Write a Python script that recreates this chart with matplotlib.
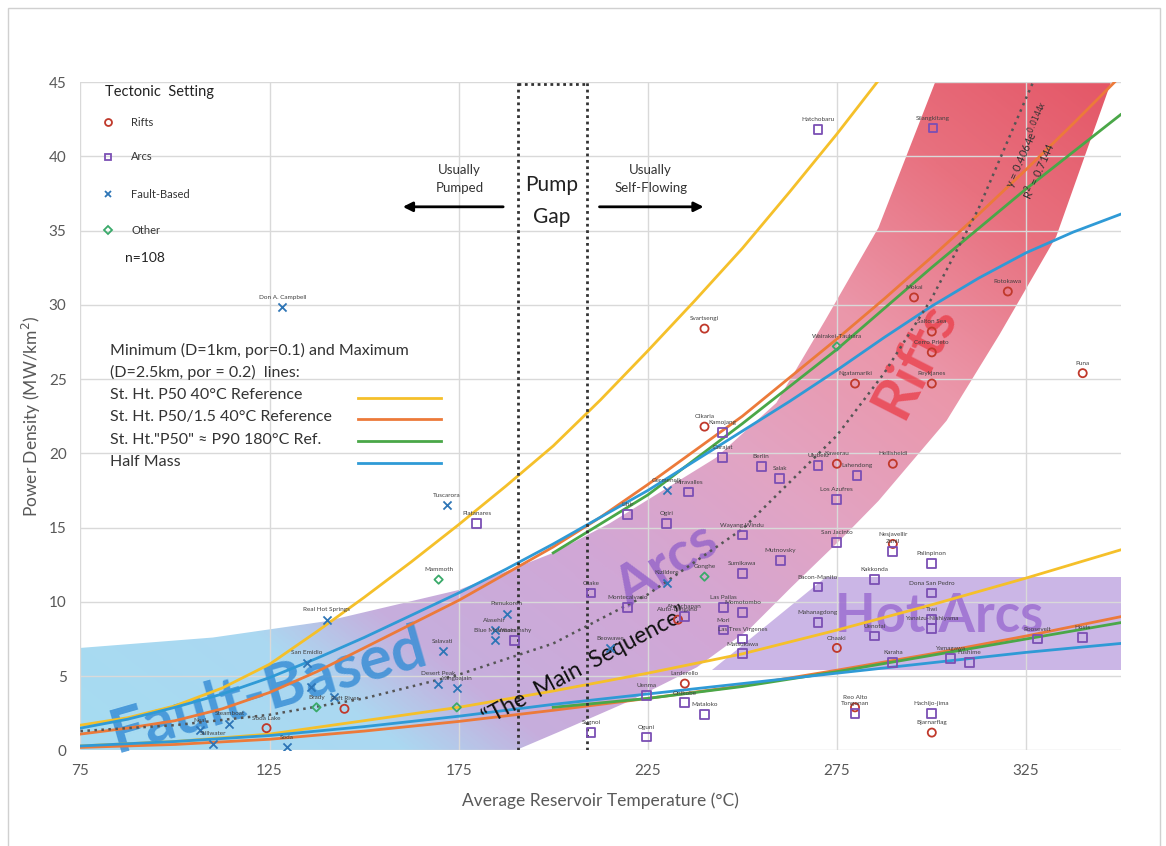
import matplotlib.pyplot as plt
import numpy as np
from matplotlib.patches import Polygon, Rectangle
from matplotlib.colors import LinearSegmentedColormap

plt.rcParams['font.family'] = ['Lato', 'DejaVu Sans']

# ---------------- data ----------------
# model curves (temperature in C, power density in MW/km2)
fine_t = [75, 87.5, 100, 112.5, 125, 137.5, 150, 162.5, 175, 187.5, 200, 212.5, 225,
          237.5, 250, 262.5, 275, 287.5, 300, 312.5, 325, 337.5, 350]
p50_max = [1.7, 2.2, 3.0, 4.2, 5.8, 8.0, 10.3, 12.7, 15.2, 17.8, 20.5, 23.6, 26.9,
           30.3, 33.8, 37.6, 41.5, 45.6, 50.0, 54.0, 58.0, 62.0, 67.0]
p50_15_max = [1.1, 1.5, 2.0, 2.8, 3.9, 5.3, 6.9, 8.5, 10.1, 11.9, 13.7, 15.7, 17.9,
              20.2, 22.5, 25.1, 27.7, 30.4, 33.2, 36.1, 39.1, 42.2, 45.4]
half_max = [1.5, 2.1, 2.9, 3.8, 4.9, 6.2, 7.6, 9.1, 10.6, 12.2, 13.9, 15.7, 17.5,
            19.5, 21.5, 23.5, 25.6, 27.8, 29.9, 31.8, 33.5, 34.9, 36.1]
curve_t = [75, 100, 125, 150, 175, 200, 225, 250, 275, 300, 325, 350]
p50_min = [0.3, 0.6, 1.1, 2.0, 2.9, 4.0, 5.2, 6.5, 8.1, 9.8, 11.6, 13.5]
p50_15_min = [0.2, 0.4, 0.75, 1.3, 1.95, 2.7, 3.5, 4.35, 5.4, 6.5, 7.7, 9.0]
half_min = [0.3, 0.6, 1.0, 1.6, 2.3, 3.1, 3.8, 4.5, 5.2, 5.9, 6.6, 7.2]
p90_t = [200, 225, 250, 275, 300, 325, 350]
p90_max = [13.3, 17.2, 22.0, 27.0, 32.5, 37.8, 42.8]
p90_min = [2.9, 3.5, 4.3, 5.3, 6.4, 7.5, 8.6]
fit_t = [75, 100, 125, 150, 175, 200, 225, 250, 275, 287.5, 300, 312.5, 325, 330]
fit_p = [1.3, 1.7, 2.4, 3.5, 5.1, 7.2, 10.5, 14.9, 21.2, 25.4, 30.4, 36.5, 43.9, 46.8]

# shaded band (Fault-Based -> Arcs -> Rifts), outline
band_t = [75, 110, 140, 175, 200, 215, 243, 259, 272, 286, 301,
          347.5, 333, 318, 304, 286, 276, 263, 252, 238, 220, 202, 190, 75]
band_p = [6.9, 7.6, 8.7, 10.8, 13.3, 15.3, 19.7, 23.4, 29.0, 35.2, 45.0,
          45.0, 34.6, 28.0, 22.2, 16.8, 14.2, 11.0, 8.2, 5.6, 3.3, 1.3, 0, 0]
hot_t = [242, 350, 350, 272]
hot_p = [5.4, 5.4, 11.7, 11.7]

# sites
rift_names = ['Svartsengi', 'Mokai', 'Rotokawa', 'Salton Sea', 'Cerro Prieto', 'Reykjanes',
              'Ngatamariki', 'Puna', 'Olkaria', 'Hellisheidi', 'Kawerau', 'Ohaaki',
              'Bjarnarflag', 'Nesjavellir', 'Aluto-Langano', 'Larderello', 'Reo Alto',
              'Raft River', 'Soda Lake']
rift_t = [240, 295.4, 320.2, 300.1, 300.1, 300.1, 279.8, 340, 240, 289.8, 275, 275,
          300.1, 289.8, 233, 234.8, 279.8, 144.8, 124.2]
rift_p = [28.4, 30.5, 30.9, 28.2, 26.8, 24.7, 24.7, 25.4, 21.8, 19.3, 19.3, 6.9,
          1.2, 13.9, 8.8, 4.5, 2.9, 2.8, 1.5]

arc_names = ['Hatchobaru', 'Silangkitang', 'Platanares', 'Kamojang', 'Darajat', 'Berlin',
             'Salak', 'Ulubelu', 'Lahendong', 'Los Azufres', 'San Jacinto', 'Lihir', 'Ogiri',
             'Miravalles', 'Wayang Windu', 'Sumikawa', 'Mutnovsky', 'Las Pailas',
             'Momotombo', 'Mori', 'Las Tres Virgenes', 'Matsukawa', 'Ahuachapan',
             'Montecalvario', 'Mahanagdong', 'Kakkonda', 'Zunil', 'Palinpinon',
             'Dona San Pedro', 'Tiwi', 'Yanaizu-Nishiyama', 'Yamagawa', 'Fushime',
             'Roosevelt', 'Hosts', 'Karaha', 'Uenotai', 'Bacon-Manito', 'Hachijo-jima',
             'Sugnoi', 'Oguni', 'Uenma', 'Onikobe', 'Mataloko', 'Otake', 'Wooramshy',
             'Tongonan']
arc_t = [270, 300.4, 179.8, 244.8, 244.8, 255, 259.9, 270, 280.3, 275, 275, 219.7, 230,
         235.8, 250, 250, 260, 245, 250, 245, 250, 250, 234.8, 219.7, 270, 285, 289.8,
         300.1, 300, 300, 300, 305, 310, 328, 340, 289.8, 285, 270, 300, 210, 224.7,
         224.7, 234.8, 240, 210, 189.8, 279.8]
arc_p = [41.8, 41.9, 15.3, 21.4, 19.7, 19.1, 18.3, 19.2, 18.5, 16.9, 14.0, 15.9, 15.3,
         17.4, 14.5, 11.9, 12.8, 9.6, 9.3, 8.1, 7.5, 6.5, 9.0, 9.6, 8.6, 11.5, 13.4,
         12.6, 10.6, 8.8, 8.2, 6.2, 5.9, 7.5, 7.6, 5.9, 7.7, 11.0, 2.5, 1.2, 0.9,
         3.7, 3.2, 2.4, 10.6, 7.4, 2.5]

fault_names = ['Don A. Campbell', 'Tuscarora', 'Real Hot Springs', 'San Emidio', 'Pamukoren',
               'Alasehir', 'Blue Mountain', 'Salavati', 'Desert Peak', 'Yangbajain',
               'Beowawe', 'Germencik', 'Kizildere', 'Neal', 'Stillwater', 'Steamboat',
               'Soda', '', '']
fault_t = [128.4, 171.8, 140.1, 134.8, 187.7, 184.5, 184.5, 170.8, 169.5, 174.5, 215,
           230, 230, 106.5, 110, 114.4, 129.5, 136, 142]
fault_p = [29.85, 16.5, 8.8, 5.9, 9.2, 8.1, 7.4, 6.7, 4.5, 4.2, 6.9, 17.5, 11.3, 1.35,
           0.45, 1.8, 0.2, 4.3, 3.6]

other_names = ['Mammoth', 'Wairakei-Tauhara', 'Brady', '', 'Gonghe']
other_t = [169.7, 275, 137.4, 174.5, 240]
other_p = [11.5, 27.2, 2.9, 2.9, 11.7]

# ---------------- figure ----------------
fig = plt.figure(figsize=(11.66, 8.46), dpi=100)
fig.add_artist(Rectangle((0.007, -0.01), 0.988, 1.0, transform=fig.transFigure,
                         fill=False, edgecolor='#d0d0d0', lw=1))
ax = fig.add_axes([0.069, 0.113, 0.892, 0.790])
ax.set_xlim(75, 350)
ax.set_ylim(0, 45)

# gradient band
tt, pp = np.meshgrid(np.linspace(75, 350, 600), np.linspace(0, 45, 500))
s = 0.55 * (tt - 75) / 275 + 0.45 * pp / 45
cmap = LinearSegmentedColormap.from_list('band', [
    (0.0, '#a6dcf2'), (0.17, '#abd8f1'), (0.25, '#c6aedd'), (0.40, '#d1a7d6'),
    (0.55, '#e2a4c3'), (0.70, '#eb97aa'), (0.85, '#e8717f'), (1.0, '#e45666')])
img = ax.imshow(s, extent=[75, 350, 0, 45], origin='lower', aspect='auto',
                cmap=cmap, vmin=0, vmax=1, zorder=0.5, interpolation='bilinear')
band = Polygon(np.column_stack([band_t, band_p]), closed=True, fc='none', ec='none')
ax.add_patch(band)
img.set_clip_path(band)
ax.fill(hot_t, hot_p, color='#cbb6e6', zorder=0.6, lw=0)

# grid
for x in [75, 125, 175, 225, 275, 325]:
    ax.axvline(x, color='#d9d9d9', lw=1, zorder=1)
for y in range(0, 50, 5):
    ax.axhline(y, color='#d9d9d9', lw=1, zorder=1)
for sp in ax.spines.values():
    sp.set_visible(False)
ax.set_xticks([75, 125, 175, 225, 275, 325])
ax.set_yticks(range(0, 50, 5))
ax.tick_params(length=0, colors='#595959', labelsize=11, pad=10)
ax.set_xlabel('Average Reservoir Temperature (\u00b0C)', fontsize=12.5, color='#595959', labelpad=10)
ax.set_ylabel('Power Density (MW/km$^2$)', fontsize=12.5, color='#595959', labelpad=4)

# watermark words
ax.text(124.5, 4.0, 'Fault-Based', fontsize=44, fontweight='bold', color='#3a8fd6', alpha=0.85,
        rotation=16, ha='center', va='center', zorder=1.5)
ax.text(230, 12.5, 'Arcs', fontsize=40, fontweight='bold', color='#9463c9', alpha=0.8,
        rotation=32, ha='center', va='center', zorder=1.5)
ax.text(295.6, 26.3, 'Rifts', fontsize=42, fontweight='bold', color='#ea3b46', alpha=0.75,
        rotation=63, ha='center', va='center', zorder=1.5)
ax.text(302, 9.0, 'Hot Arcs', fontsize=38, fontweight='bold', color='#9a6ad0', alpha=0.8,
        ha='center', va='center', zorder=1.5)
ax.text(208.3, 5.7, '\u201cThe  Main  Sequence\u201d', fontsize=16.5, color='#111111',
        rotation=28, ha='center', va='center', zorder=4)

# pump gap box
dot = dict(color='#333333', lw=2, ls=(0, (1, 1.3)), zorder=3)
ax.plot([190.6, 190.6], [0, 45], **dot)
ax.plot([208.9, 208.9], [0, 45], **dot)
ax.plot([190.6, 208.9], [44.9, 44.9], **dot)
ax.text(199.7, 38.1, 'Pump', fontsize=15, ha='center', va='center', color='#222222', zorder=4)
ax.text(199.7, 35.9, 'Gap', fontsize=15, ha='center', va='center', color='#222222', zorder=4)
ax.text(175.3, 38.5, 'Usually\nPumped', fontsize=9.5, ha='center', va='center',
        color='#333333', linespacing=1.6, zorder=4)
ax.text(225.8, 38.5, 'Usually\nSelf-Flowing', fontsize=9.5, ha='center', va='center',
        color='#333333', linespacing=1.6, zorder=4)
ax.annotate('', xy=(159.5, 36.6), xytext=(187.5, 36.6),
            arrowprops=dict(arrowstyle='-|>', color='black', lw=2, mutation_scale=14), zorder=4)
ax.annotate('', xy=(240.5, 36.6), xytext=(211.5, 36.6),
            arrowprops=dict(arrowstyle='-|>', color='black', lw=2, mutation_scale=14), zorder=4)

# model curves
c_yel, c_org, c_grn, c_blu = '#f5c02a', '#ec7a3a', '#4aa748', '#2f9ad6'
for t_hi, a, t_lo, b, c in [(fine_t, p50_max, curve_t, p50_min, c_yel),
                            (fine_t, p50_15_max, curve_t, p50_15_min, c_org),
                            (p90_t, p90_max, p90_t, p90_min, c_grn),
                            (fine_t, half_max, curve_t, half_min, c_blu)]:
    ax.plot(t_hi, a, color=c, lw=2, zorder=2.5)
    ax.plot(t_lo, b, color=c, lw=2, zorder=2.5)
ax.plot(fit_t, fit_p, color='#555555', lw=1.8, ls=(0, (1, 1.8)), zorder=2.6)
ax.text(325.5, 40.8, 'y = 0.4064e$^{0.0144x}$', fontsize=8, rotation=66, color='#333333',
        ha='center', va='center', zorder=4)
ax.text(328.4, 39.0, 'R$^2$ = 0.7144', fontsize=8, rotation=66, color='#333333',
        ha='center', va='center', zorder=4)

# sites
def sites(names, t, p, marker, color, size):
    ax.scatter(t, p, marker=marker, s=size, facecolors='none' if marker != 'x' else color,
               edgecolors=color, linewidths=1.3, zorder=5)
    for n, x, y in zip(names, t, p):
        if n:
            ax.annotate(n, (x, y), xytext=(0, 6), textcoords='offset points', ha='center',
                        fontsize=4.6, color='#404040', zorder=6)

c_rift, c_arc, c_fault, c_other = '#c0392b', '#7b4fb4', '#2e75b6', '#3aaa6a'
sites(rift_names, rift_t, rift_p, 'o', c_rift, 34)
sites(arc_names, arc_t, arc_p, 's', c_arc, 40)
sites(fault_names, fault_t, fault_p, 'x', c_fault, 34)
sites(other_names, other_t, other_p, 'D', c_other, 18)

# legends (figure coordinates)
def fpos(px, py):
    return px / 1166, 1 - py / 846

fig.text(*fpos(105, 92), 'Tectonic  Setting', fontsize=10.5, color='#222222', va='center')
leg = [('o', c_rift, 'Rifts', 122), ('s', c_arc, 'Arcs', 157),
       ('x', c_fault, 'Fault-Based', 194), ('D', c_other, 'Other', 230)]
for m, c, lab, py in leg:
    x, y = fpos(108, py)
    fig.add_artist(plt.Line2D([x], [y], marker=m, color=c, mfc='none' if m != 'x' else c,
                              mew=1.3, ms=5 if m != 'D' else 4, transform=fig.transFigure))
    fig.text(*fpos(131, py), lab, fontsize=8, color='#333333', va='center')
fig.text(*fpos(125, 258), 'n=108', fontsize=10, color='#222222', va='center')

lines_txt = ['Minimum (D=1km, por=0.1) and Maximum', '(D=2.5km, por = 0.2)  lines:',
             'St. Ht. P50 40\u00b0C Reference', 'St. Ht. P50/1.5 40\u00b0C Reference',
             'St. Ht."P50" \u2248 P90 180\u00b0C Ref.', 'Half Mass']
for i, txt in enumerate(lines_txt):
    fig.text(*fpos(110, 350 + 22.4 * i), txt, fontsize=11.5, color='#333333', va='center')
for i, c in enumerate([c_yel, c_org, c_grn, c_blu]):
    x0, y = fpos(358, 398 + 21.5 * i)
    x1, _ = fpos(441, 0)
    fig.add_artist(plt.Line2D([x0, x1], [y, y], color=c, lw=2, transform=fig.transFigure))

fig.savefig('out.png', dpi=100)
